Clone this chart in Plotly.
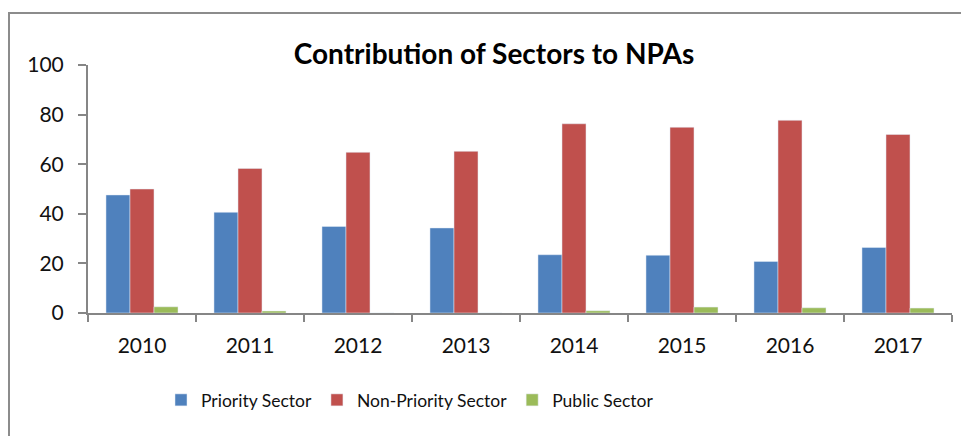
import plotly.graph_objects as go

years = ["2010", "2011", "2012", "2013", "2014", "2015", "2016", "2017"]
priority = [47.6, 40.6, 34.9, 34.3, 23.5, 23.3, 20.8, 26.4]
non_priority = [50.0, 58.3, 64.8, 65.2, 76.3, 74.9, 77.7, 72.0]
public = [2.5, 0.8, 0.0, 0.0, 0.9, 2.4, 2.1, 2.0]

W, H = 969, 436
OFF = 8  # page body margin
# desired page coords of plot area: x 88..952, y 65..313
L = 88 - OFF
T = 65 - OFF
R = W - (952 - OFF)
B = H - (313 - OFF)
pw, ph = W - L - R, H - T - B

def px_x(x):
    return (x - OFF - L) / pw

def px_y(y):
    return (H - B - (y - OFF)) / ph

FONT = "Lato"
TXT = "#111111"
AX = "#868686"

fig = go.Figure()
fig.add_trace(go.Bar(x=years, y=priority, name="Priority Sector", marker_color="#4F81BD"))
fig.add_trace(go.Bar(x=years, y=non_priority, name="Non-Priority Sector", marker_color="#C0504D"))
fig.add_trace(go.Bar(x=years, y=public, name="Public Sector", marker_color="#9BBB59"))

fig.update_layout(
    width=W, height=H,
    margin=dict(l=L, r=R, t=T, b=B, pad=0, autoexpand=False),
    paper_bgcolor="white", plot_bgcolor="white",
    barmode="group", bargap=0.333, bargroupgap=0,
    font=dict(family=FONT, color=TXT),
    title=dict(text="<b>Contribution of Sectors to NPAs</b>", x=(494 - OFF) / W, xanchor="center",
               y=1 - (54 - OFF) / H, yanchor="middle", yref="container",
               font=dict(family=FONT, size=28, color="#000000")),
    showlegend=True,
    legend=dict(orientation="h", x=px_x(161), xanchor="left", y=px_y(400), yanchor="middle",
                font=dict(family=FONT, size=17.5, color=TXT), bgcolor="rgba(0,0,0,0)",
                traceorder="normal"),
    xaxis=dict(type="category", range=[-0.5, 7.5], showline=True, linecolor=AX, linewidth=2,
               ticks="outside", tickson="boundaries", ticklen=7, tickcolor=AX, tickwidth=2,
               showgrid=False, tickfont=dict(family=FONT, size=21, color=TXT),
               ticklabelstandoff=13, fixedrange=True),
    yaxis=dict(range=[0, 100], dtick=20, showline=True, linecolor=AX, linewidth=2,
               ticks="outside", ticklen=8, tickcolor=AX, tickwidth=2, showgrid=False,
               zeroline=False, tickfont=dict(family=FONT, size=21, color=TXT),
               ticklabelstandoff=10, fixedrange=True),
    shapes=[dict(type="rect", xref="paper", yref="paper",
                 x0=px_x(9), x1=px_x(1000), y0=px_y(13), y1=px_y(480),
                 line=dict(color="#8c8c8c", width=2), fillcolor="rgba(0,0,0,0)", layer="below")],
)

fig.write_html("out.html")
